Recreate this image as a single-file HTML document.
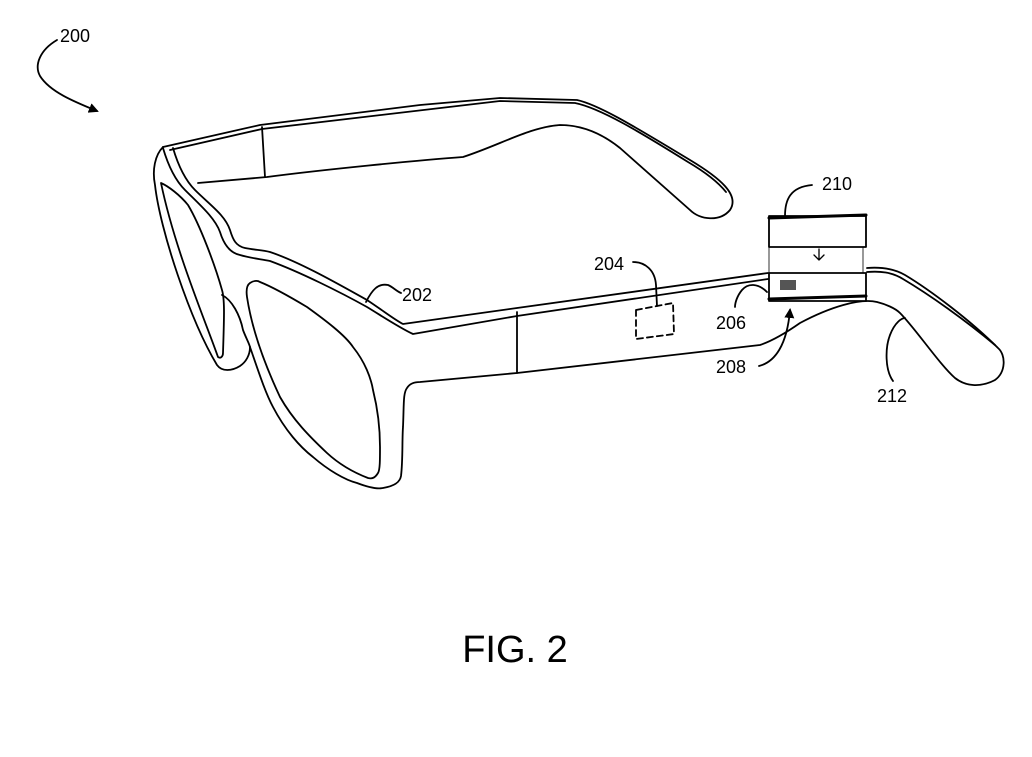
<!DOCTYPE html>
<html><head><meta charset="utf-8"><style>
html,body{margin:0;padding:0;background:#fff;}
svg{display:block;}
text{font-family:"Liberation Sans",Arial,sans-serif;fill:#000;}
</style></head><body>
<svg width="1032" height="757" viewBox="0 0 1032 757" xmlns="http://www.w3.org/2000/svg">
<defs><marker id="ah" markerWidth="10" markerHeight="10" refX="8" refY="5" orient="auto" markerUnits="userSpaceOnUse"><path d="M0,0 L10,5 L0,10 z" fill="#000"/></marker></defs>
<g fill="none" stroke="#000" stroke-width="1.8" stroke-linejoin="round" stroke-linecap="round">
<path d="M57,40 C40,50 34,65 40,76 C50,92 75,102 97,111" marker-end="url(#ah)"/>
<!-- far temple -->
<path d="M163,147 L260,125 L420,105 L500,98 L577,100 C600,105 640,130 690,160 C720,178 740,195 730,210 C720,222 700,220 690,210 L620,148 C600,132 580,125 560,125 C530,127 500,145 463,157 C420,160 320,170 267,177 L198,183"/>
<path d="M170,150 L262,129 L500,101 L575,103 C600,108 640,132 688,162 C705,172 718,182 726,192"/>
<path d="M262,127 L265,177"/>
<!-- far frame outer -->
<path d="M163,147 C155,155 152,170 155,185 C160,230 190,320 217,365 C222,372 232,371 240,366 C246,362 250,355 250,347"/>
<path d="M161,183 C175,250 205,320 218,357 C221,359 223,356 223,353 C224,320 225,300 222,290 C215,265 200,225 188,205 C180,195 168,186 161,183 Z"/>
<path d="M222,295 C232,300 240,315 243,330 C246,338 249,343 250,347"/>
<!-- front rim upper line -->
<path d="M173,148 C178,165 185,180 195,190 C210,205 225,215 230,230 C233,240 236,246 245,248 C255,250 262,250 270,252 C300,262 340,285 367,300 C385,312 395,320 403,324 L517,308 L768,273"/>
<!-- front rim lower line -->
<path d="M163,148 C168,165 175,180 185,190 C200,205 215,218 220,232 C224,245 230,253 240,255 C250,258 260,259 270,261 C300,272 340,292 367,307 C385,318 400,328 413,334 L517,316 L768,279"/>
<!-- near frame outer -->
<path d="M250,347 C258,370 265,392 273,407 C285,430 300,447 313,457 C328,470 345,480 357,483 C370,488 378,489 383,488 C395,486 400,482 401,476 C403,460 402,440 403,427 C404,405 403,393 407,388 C410,383 415,382 420,382 L517,373 L760,345 C775,340 790,330 800,323 C830,307 860,298 877,302 C885,304 895,308 900,313 C915,328 940,365 955,378 C965,386 980,388 995,380 C1006,372 1006,355 998,348 C970,320 930,290 905,275 C893,268 880,267 867,268"/>
<path d="M867,272 C880,271 892,272 903,279 C930,295 965,320 995,345"/>
<path d="M517,312 L517,373"/>
<!-- near lens inner -->
<path d="M250,283 C253,281 257,280 260,282 C275,288 292,298 307,307 C325,320 345,335 353,347 C365,362 371,378 373,390 C378,410 380,430 380,447 C380,460 380,470 378,473 C375,478 372,479 368,478 C355,473 340,465 327,453 C310,437 293,420 280,397 C265,365 252,330 247,297 C246,290 247,285 250,283 Z"/>
<path d="M366,302 C372,290 378,283 388,285 C393,287 396,291 401,293"/>
<path d="M636,310 L673,303 L674,334 L636,339 Z" stroke-dasharray="6,4"/>
<path d="M633,262 C645,262 655,270 656,285 L657,306"/>
<rect x="769" y="273" width="97" height="28" fill="#fff"/>
<path d="M769,299 L866,296" stroke-width="3"/>
<rect x="769" y="216" width="97" height="31" fill="#fff"/>
<path d="M769,218 L866,215" stroke-width="3"/>
<path d="M769,247 L769,273 M863,247 L863,273" stroke-width="0.8"/>
<path d="M819,249 L819,260 M814,255 L819,260 L824,255" stroke-width="1.3"/>
<path d="M785,216 C785,200 790,187 812,185"/>
<path d="M767,292 C758,283 748,283 742,290 C737,296 735,303 735,307"/>
<path d="M759,366 C775,362 787,345 790,310" marker-end="url(#ah)"/>
<path d="M893,381 C885,370 885,348 890,335 C895,322 902,318 905,318"/>
</g>
<rect x="780" y="280" width="16" height="10" fill="#555"/>
<text x="60" y="42" font-size="18">200</text>
<text x="402" y="301" font-size="18">202</text>
<text x="594" y="270" font-size="18">204</text>
<text x="716" y="329" font-size="18">206</text>
<text x="716" y="373" font-size="18">208</text>
<text x="822" y="190" font-size="18">210</text>
<text x="877" y="402" font-size="18">212</text>
<text x="515" y="662" font-size="38" text-anchor="middle">FIG. 2</text>
</svg>
</body></html>
